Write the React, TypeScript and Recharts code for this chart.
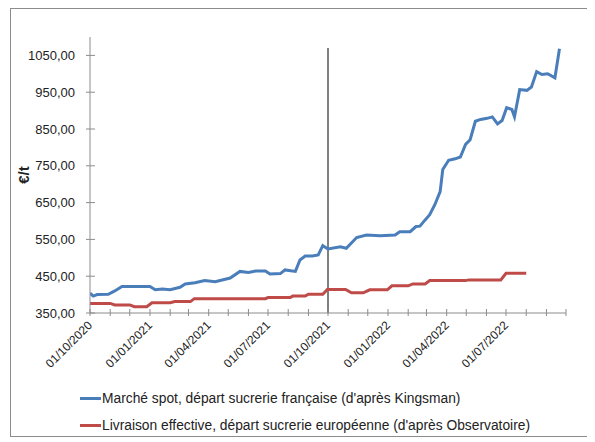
import React from "react";
import { LineChart, Line, XAxis, YAxis, ReferenceLine, Legend } from "recharts";

// ---- Data ----
const spotDates = [
  "2020-10-01", "2020-10-06", "2020-10-12", "2020-10-29", "2020-11-08", "2020-11-19",
  "2021-01-01", "2021-01-09", "2021-01-20", "2021-02-01", "2021-02-16", "2021-02-24",
  "2021-03-11", "2021-03-26", "2021-04-11", "2021-05-04", "2021-05-19", "2021-06-01",
  "2021-06-12", "2021-06-27", "2021-07-04", "2021-07-20", "2021-07-27", "2021-08-12",
  "2021-08-19", "2021-08-27", "2021-09-07", "2021-09-16", "2021-09-23", "2021-10-01",
  "2021-10-20", "2021-10-29", "2021-11-14", "2021-11-29", "2021-12-20", "2022-01-12",
  "2022-01-19", "2022-02-04", "2022-02-13", "2022-02-19", "2022-02-27", "2022-03-06",
  "2022-03-14", "2022-03-22", "2022-03-26", "2022-04-04", "2022-04-14", "2022-04-22",
  "2022-04-30", "2022-05-07", "2022-05-15", "2022-05-23", "2022-06-02", "2022-06-10",
  "2022-06-18", "2022-06-25", "2022-07-02", "2022-07-10", "2022-07-14", "2022-07-22",
  "2022-08-02", "2022-08-09", "2022-08-17", "2022-08-25", "2022-09-03", "2022-09-14",
  "2022-09-21",
];
const spotValues = [
  404, 396, 400, 401, 410, 422,
  422, 413, 415, 413, 420, 429,
  432, 438, 435, 445, 463, 460,
  464, 464, 456, 457, 467, 463,
  494, 505, 505, 508, 533, 524,
  530, 526, 555, 562, 560, 562,
  571, 571, 585, 586, 603, 617,
  645, 680, 740, 765, 769, 774,
  808, 821, 871, 876, 879, 883,
  864, 873, 908, 903, 883, 957,
  955, 964, 1006, 998, 1000, 989,
  1068,
];

const deliveryDates = [
  "2020-10-01", "2020-11-01", "2020-11-08", "2020-12-01", "2020-12-08", "2020-12-27",
  "2021-01-04", "2021-02-01", "2021-02-08", "2021-03-04", "2021-03-10", "2021-06-27",
  "2021-07-01", "2021-08-04", "2021-08-08", "2021-08-27", "2021-09-01", "2021-09-23",
  "2021-09-30", "2021-10-28", "2021-11-06", "2021-11-24", "2021-12-04", "2021-12-31",
  "2022-01-07", "2022-02-01", "2022-02-08", "2022-02-27", "2022-03-06", "2022-04-30",
  "2022-05-05", "2022-06-23", "2022-07-01", "2022-08-01",
];
const deliveryValues = [
  376, 376, 372, 372, 367, 367,
  378, 378, 381, 381, 389, 389,
  392, 392, 396, 396, 401, 401,
  414, 414, 405, 405, 413, 413,
  424, 424, 429, 429, 438, 438,
  440, 440, 458, 458,
];

const monthTicks = [
  "2020-10-01", "2020-11-01", "2020-12-01", "2021-01-01", "2021-02-01", "2021-03-01",
  "2021-04-01", "2021-05-01", "2021-06-01", "2021-07-01", "2021-08-01", "2021-09-01",
  "2021-10-01", "2021-11-01", "2021-12-01", "2022-01-01", "2022-02-01", "2022-03-01",
  "2022-04-01", "2022-05-01", "2022-06-01", "2022-07-01", "2022-08-01", "2022-09-01",
  "2022-10-01",
];
const labelledTicks = [
  "2020-10-01", "2021-01-01", "2021-04-01", "2021-07-01",
  "2021-10-01", "2022-01-01", "2022-04-01", "2022-07-01",
];
const yTicks = [350, 450, 550, 650, 750, 850, 950, 1050];
const markerDate = "2021-10-01";

const seriesNames = [
  "Marché spot, départ sucrerie française (d'après Kingsman)",
  "Livraison effective, départ sucrerie européenne (d'après Observatoire)",
];
const BLUE = "#4A7EBB";
const RED = "#BE4B48";

// ---- helpers ----
const ts = (d: string) => Date.parse(d + "T00:00:00Z");
const spotData = spotDates.map((d, i) => ({ t: ts(d), v: spotValues[i] }));
const deliveryData = deliveryDates.map((d, i) => ({ t: ts(d), v: deliveryValues[i] }));
const tickValues = monthTicks.map(ts);
const labelSet = new Set(labelledTicks.map(ts));

const fmtDate = (t: number) => {
  const d = new Date(t);
  const dd = String(d.getUTCDate()).padStart(2, "0");
  const mm = String(d.getUTCMonth() + 1).padStart(2, "0");
  return `${dd}/${mm}/${d.getUTCFullYear()}`;
};
const fmtNum = (v: number) => v.toFixed(2).replace(".", ",");

const FONT = "'Liberation Sans', Arial, sans-serif";

const XTick = (props: any) => {
  const { x, y, payload } = props;
  const show = labelSet.has(payload.value);
  const ax = x + 3;
  const ay = y + 13;
  return (
    <g>
      <line x1={x} x2={x} y1={y - 4} y2={y + 3} stroke="#8c8c8c" strokeWidth={1} />
      {show && (
        <text
          x={ax}
          y={ay}
          textAnchor="end"
          fontSize={12}
          fontFamily={FONT}
          fill="#222"
          transform={`rotate(-45 ${ax} ${ay})`}
        >
          {fmtDate(payload.value)}
        </text>
      )}
    </g>
  );
};

const YTick = (props: any) => {
  const { x, y, payload } = props;
  return (
    <g>
      <line x1={x - 4} x2={x + 5} y1={y} y2={y} stroke="#8c8c8c" strokeWidth={1} />
      <text
        x={x - 15}
        y={y}
        dy={4.5}
        textAnchor="end"
        fontSize={13}
        fontFamily={FONT}
        fill="#222"
      >
        {fmtNum(payload.value)}
      </text>
    </g>
  );
};

const LegendContent = () => (
  <div style={{ fontFamily: FONT, fontSize: 13.8, color: "#222" }}>
    {[BLUE, RED].map((c, i) => (
      <div key={i} style={{ display: "flex", alignItems: "center", height: 27 }}>
        <div style={{ width: 21, height: 3, background: c }} />
        <span style={{ marginLeft: 1, whiteSpace: "nowrap" }}>{seriesNames[i]}</span>
      </div>
    ))}
  </div>
);

export default function App() {
  return (
    <div
      style={{
        marginLeft: 2,
        width: 577,
        height: 427,
        border: "1px solid #8c8c8c",
        position: "relative",
        background: "#fff",
      }}
    >
      <LineChart
        width={577}
        height={427}
        margin={{ top: 28, right: 22, left: 0, bottom: 63 }}
      >
        <XAxis
          type="number"
          dataKey="t"
          domain={[ts("2020-10-01"), ts("2022-10-01")]}
          ticks={tickValues}
          interval={0}
          tick={<XTick />}
          tickLine={false}
          tickSize={0}
          tickMargin={0}
          height={60}
          axisLine={{ stroke: "#8c8c8c", strokeWidth: 1 }}
          allowDataOverflow
        />
        <YAxis
          type="number"
          domain={[350, 1100]}
          ticks={yTicks}
          interval={0}
          tick={<YTick />}
          tickLine={false}
          tickSize={0}
          tickMargin={0}
          width={79}
          axisLine={{ stroke: "#8c8c8c", strokeWidth: 1 }}
          label={{
            value: "€/t",
            angle: -90,
            position: "insideLeft",
            offset: 13,
            style: { fontFamily: FONT, fontSize: 15, fontWeight: "bold", fill: "#222", textAnchor: "middle" },
          }}
          allowDataOverflow
        />
        <ReferenceLine
          segment={[
            { x: ts(markerDate), y: 350 },
            { x: ts(markerDate), y: 1070 },
          ]}
          stroke="#555"
          strokeWidth={1.5}
        />
        <Line
          data={deliveryData}
          dataKey="v"
          type="linear"
          stroke={RED}
          strokeWidth={3}
          dot={false}
          isAnimationActive={false}
          name={seriesNames[1]}
        />
        <Line
          data={spotData}
          dataKey="v"
          type="linear"
          stroke={BLUE}
          strokeWidth={3}
          dot={false}
          isAnimationActive={false}
          name={seriesNames[0]}
        />
        <Legend
          layout="vertical"
          align="center"
          verticalAlign="middle"
          wrapperStyle={{ left: 69, top: 376, width: 500 }}
          content={<LegendContent />}
        />
      </LineChart>
    </div>
  );
}
